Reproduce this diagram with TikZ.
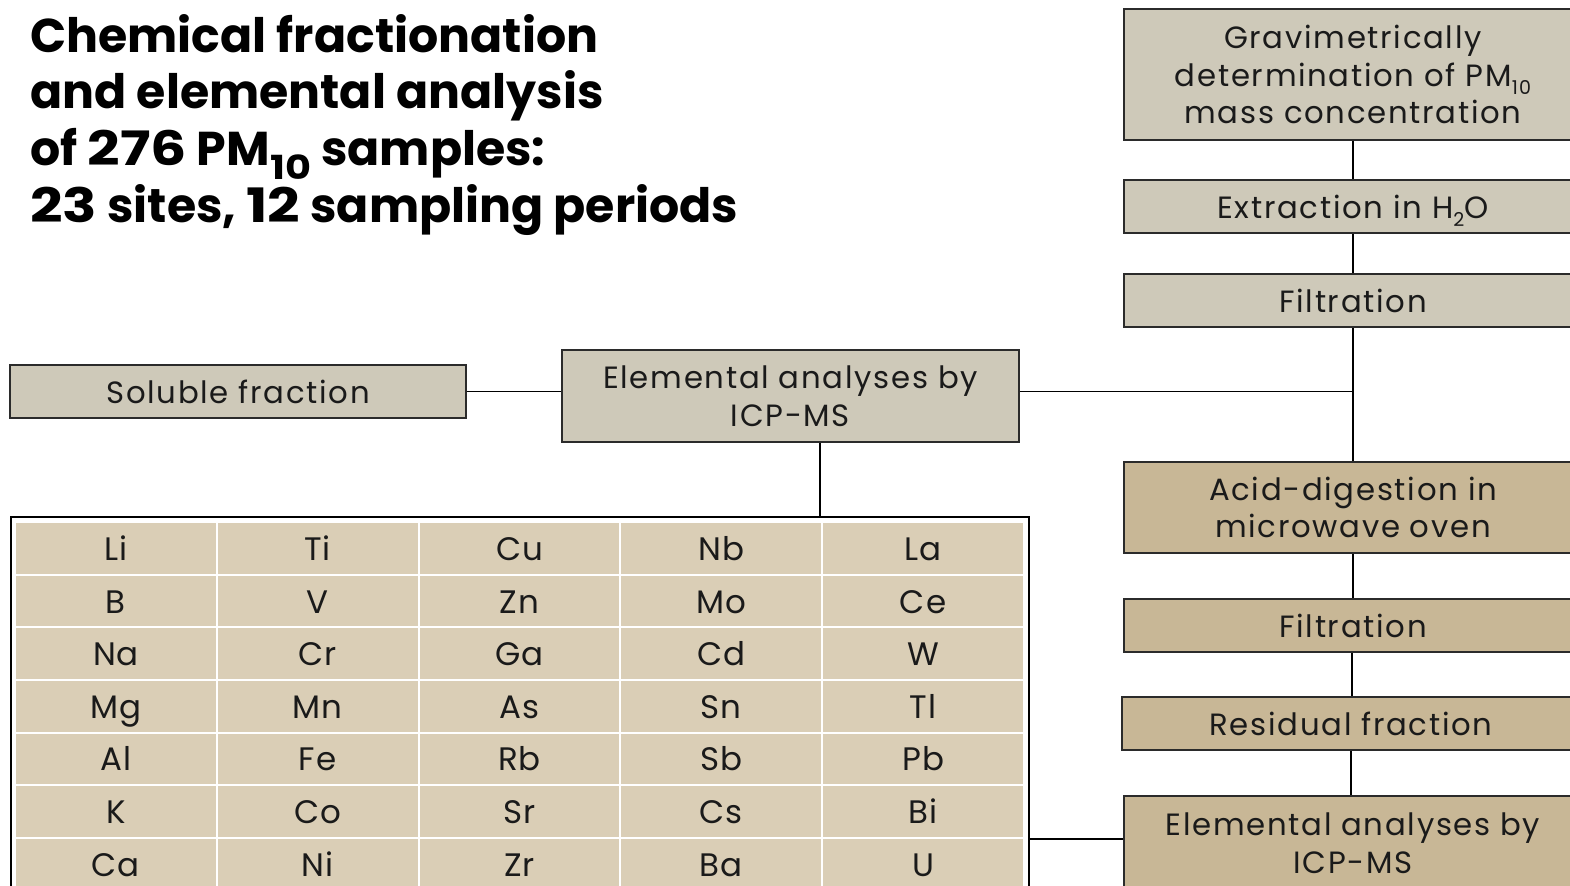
\documentclass[tikz,border=0pt]{standalone}
\usepackage{fontspec}
\setmainfont{Poppins}
\definecolor{grayfill}{HTML}{CEC9B9}
\definecolor{tanfill}{HTML}{C8B796}
\definecolor{cellfill}{HTML}{DACEB6}
\definecolor{boxline}{HTML}{2B2B2B}
\definecolor{txt}{HTML}{1A1A1A}
\newcommand\bodyfnt{\fontsize{17.5}{21.5}\selectfont\addfontfeature{LetterSpace=5.5}}
\newcommand\cellfnt{\fontsize{18.5}{22}\selectfont\addfontfeature{LetterSpace=3}}
\newcommand\titlefnt{\fontsize{27}{32}\selectfont\bfseries}
\newcommand\mysub[1]{\raisebox{-0.28em}[0pt][0pt]{\scalebox{0.62}{#1}}}
\newcommand\tsub[1]{\raisebox{-0.3em}[0pt][0pt]{\scalebox{0.7}{#1}}}
\newcommand\dg[1]{\scalebox{1.2}[1]{#1}}
\tikzset{
  box/.style={draw=boxline, line width=0.9pt, minimum height=1.06cm, minimum width=9.16cm,
    text=txt, align=center, font=\bodyfnt, inner sep=0pt},
  graybox/.style={box, fill=grayfill},
  tanbox/.style={box, fill=tanfill},
  cell/.style={fill=cellfill, minimum width=3.996cm, minimum height=1.012cm, inner sep=0pt,
    font=\cellfnt, text=txt, text height=16pt, text depth=2.4pt},
  conn/.style={line width=0.85pt, draw=black},
  ttl/.style={anchor=base west, inner sep=0pt, font=\titlefnt, text=black}
}
\begin{document}
\begin{tikzpicture}[x=0.02cm, y=-0.02cm]
\useasboundingbox (0,0) rectangle (1570,886);
\clip (0,0) rectangle (1570,886);
% title
\node[ttl] (t1) at (30,52) {Chemical fractionation};
\node[ttl] (t2) at (30,108) {and elemental analysis};
\node[ttl] (t3) at (30,165) {of \dg{276} PM\tsub{\dg{10}} samples:};
\node[ttl] (t4) at (30,222) {\dg{23} sites, \dg{12} sampling periods};
% right column
\node[graybox, minimum height=2.62cm] (grav) at (1353,74.5) {Gravimetrically\\determination of PM\mysub{10}\\mass concentration};
\node[graybox] (extr) at (1353,206.5) {Extraction in H\mysub{2}O};
\node[graybox] (filt1) at (1353,300.5) {Filtration};
\node[tanbox, minimum height=1.82cm] (acid) at (1353,507.5) {Acid-digestion in\\microwave oven};
\node[tanbox] (filt2) at (1353,625.5) {Filtration};
\node[tanbox] (resid) at (1351,723.5) {Residual fraction};
\node[tanbox, minimum height=1.88cm] (elem2) at (1353,843) {Elemental analyses by\\ICP-MS};
% left
\node[graybox, minimum width=9.12cm] (sol) at (238,391.5) {Soluble fraction};
\node[graybox, minimum width=9.14cm, minimum height=1.84cm] (elem1) at (790.5,396) {Elemental analyses by\\ICP-MS};
% table
\node[draw=black, line width=1pt, fill=white, minimum width=20.36cm, minimum height=7.66cm, inner sep=0pt] (tab) at (520,708.5) {};
\foreach \row [count=\i from 0] in {{Li,Ti,Cu,Nb,La},{B,V,Zn,Mo,Ce},{Na,Cr,Ga,Cd,W},{Mg,Mn,As,Sn,Tl},{Al,Fe,Rb,Sb,Pb},{K,Co,Sr,Cs,Bi},{Ca,Ni,Zr,Ba,U}} {
  \foreach \el [count=\j from 0] in \row {
    \node[cell] (c\i\j) at ({115.9+201.8*\j},{548.5+52.6*\i}) {\el};
  }
}
% connectors
\draw[conn] (grav.south) -- (extr.north);
\draw[conn] (extr.south) -- (filt1.north);
\draw[conn] (filt1.south) -- (acid.north);
\draw[conn] (acid.south) -- (filt2.north);
\draw[conn] ([xshift=-0.02cm]filt2.south) -- ([xshift=-0.02cm]filt2.south |- resid.north);
\draw[conn] (resid.south) -- (resid.south |- elem2.north);
\draw[conn] (sol.east) -- (sol.east -| elem1.west);
\draw[conn] (sol.east -| elem1.east) -- (sol.east -| filt1.south);
\draw[conn] ([xshift=0.59cm]elem1.south) -- ([xshift=0.59cm]elem1.south |- tab.north);
\draw[conn] ([yshift=0.08cm]elem2.west -| tab.east) -- ([yshift=0.08cm]elem2.west);
\end{tikzpicture}
\end{document}
